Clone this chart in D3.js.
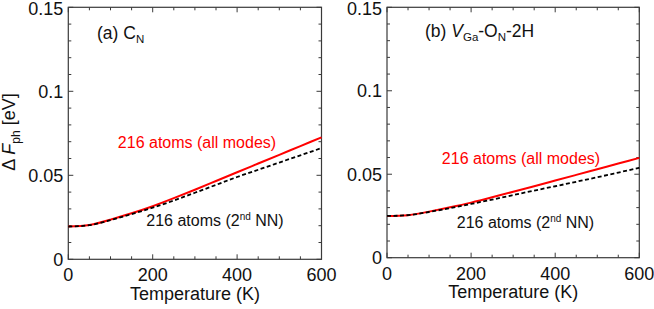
<!DOCTYPE html>
<html>
<head>
<meta charset="utf-8">
<script src="https://cdn.jsdelivr.net/npm/d3@7"></script>
<style>
  body { margin: 0; background: #fff; }
  svg { display: block; font-family: "Liberation Sans", Arial, sans-serif; }
</style>
</head>
<body>
<div id="chart"></div>
<script>
// temperatures (K)
const temps = [0, 50, 100, 150, 200, 250, 300, 350, 400, 450, 500, 550, 600];

// (a) C_N
const cnAll = [0.0195, 0.0204, 0.0236, 0.0274, 0.0316, 0.0364, 0.0414, 0.0466, 0.0518, 0.0570, 0.0622, 0.0674, 0.0726];
const cnNN2 = [0.0195, 0.0203, 0.0233, 0.0269, 0.0307, 0.0350, 0.0396, 0.0443, 0.0490, 0.0533, 0.0576, 0.0619, 0.0662];

// (b) V_Ga-O_N-2H
const vgAll = [0.0250, 0.0255, 0.0276, 0.0302, 0.0330, 0.0362, 0.0395, 0.0428, 0.0462, 0.0496, 0.0530, 0.0564, 0.0598];
const vgNN2 = [0.0250, 0.0255, 0.0274, 0.0297, 0.0322, 0.0348, 0.0375, 0.0402, 0.0428, 0.0455, 0.0482, 0.0510, 0.0538];

const xTicks = [0, 200, 400, 600];
const yTicks = [0, 0.05, 0.1, 0.15];
const yTickLabels = ["0", "0.05", "0.1", "0.15"];

const W = 654, H = 309;
const svg = d3.select("#chart").append("svg")
    .attr("width", W)
    .attr("height", H);

const frameColor = "#3a3a3a";

function drawPanel(p) {
    const x = d3.scaleLinear().domain([0, 600]).range([p.left, p.right]);
    const y = d3.scaleLinear().domain([0, 0.15]).range([p.bottom, p.top]);
    const g = svg.append("g");

    // minor + major ticks, pointing inward on all four sides
    const xMinor = d3.range(0, 601, 50);
    const yMinor = d3.range(0, 0.1501, 0.01);
    const tick = (x1, y1, x2, y2) => g.append("line")
        .attr("x1", x1).attr("y1", y1).attr("x2", x2).attr("y2", y2)
        .attr("stroke", frameColor).attr("stroke-width", 1);

    xMinor.forEach(v => {
        const len = v % 200 === 0 ? 5 : 3;
        tick(x(v), p.bottom, x(v), p.bottom - len);
        tick(x(v), p.top, x(v), p.top + len);
    });
    yMinor.forEach(v => {
        const major = Math.abs(v * 100 - Math.round(v / 0.05) * 5) < 1e-6;
        const len = major ? 5 : 3;
        tick(p.left, y(v), p.left + len, y(v));
        tick(p.right, y(v), p.right - len, y(v));
    });

    g.append("rect")
        .attr("x", p.left).attr("y", p.top)
        .attr("width", p.right - p.left).attr("height", p.bottom - p.top)
        .attr("fill", "none").attr("stroke", frameColor).attr("stroke-width", 1.2);

    // tick labels
    g.selectAll(".xl").data(xTicks).enter().append("text")
        .attr("x", d => x(d)).attr("y", p.bottom + 22)
        .attr("text-anchor", "middle").attr("font-size", 18).attr("fill", "#111")
        .text(d => d);
    g.selectAll(".yl").data(yTicks).enter().append("text")
        .attr("x", p.left - 5).attr("y", d => Math.max(y(d), p.top + 1.5)).attr("dy", "0.36em")
        .attr("text-anchor", "end").attr("font-size", 18).attr("fill", "#111")
        .text((d, i) => yTickLabels[i]);

    g.append("text")
        .attr("x", (p.left + p.right) / 2).attr("y", p.bottom + 40.5)
        .attr("text-anchor", "middle").attr("font-size", 18).attr("fill", "#111")
        .text("Temperature (K)");

    const line = d3.line()
        .x((d, i) => x(temps[i]))
        .y(d => y(d))
        .curve(d3.curveNatural);

    g.append("path").datum(p.all)
        .attr("d", line).attr("fill", "none")
        .attr("stroke", "#ff0000").attr("stroke-width", 2);
    g.append("path").datum(p.nn2)
        .attr("d", line).attr("fill", "none")
        .attr("stroke", "#000").attr("stroke-width", 1.8)
        .attr("stroke-dasharray", "4,2.5");

    // series labels
    g.append("text")
        .attr("x", p.redLab[0]).attr("y", p.redLab[1])
        .attr("text-anchor", "middle").attr("font-size", 16).attr("fill", "#ff0000")
        .text("216 atoms (all modes)");
    const bl = g.append("text")
        .attr("x", p.blkLab[0]).attr("y", p.blkLab[1])
        .attr("text-anchor", "middle").attr("font-size", 16).attr("fill", "#111");
    bl.append("tspan").text("216 atoms (2");
    bl.append("tspan").attr("font-size", 10).attr("dy", -6).text("nd");
    bl.append("tspan").attr("dy", 6).text(" NN)");

    // panel title
    const t = g.append("text")
        .attr("x", p.title[0]).attr("y", p.title[1])
        .attr("font-size", 17.5).attr("fill", "#111");
    p.titleParts.forEach(part => {
        const s = t.append("tspan").text(part.t);
        if (part.sub) s.attr("font-size", 11.5).attr("dy", 4);
        if (part.back) s.attr("dy", -4);
        if (part.it) s.attr("font-style", "italic");
    });
}

drawPanel({
    left: 68.3, right: 321.5, top: 7.3, bottom: 259.3,
    all: cnAll, nn2: cnNN2,
    redLab: [197, 147.5], blkLab: [215, 225.5],
    title: [97, 39],
    titleParts: [{t: "(a) C"}, {t: "N", sub: true}]
});

drawPanel({
    left: 387, right: 639.3, top: 7.3, bottom: 257.7,
    all: vgAll, nn2: vgNN2,
    redLab: [521, 163.5], blkLab: [525.5, 227.5],
    title: [425, 37],
    titleParts: [{t: "(b) "}, {t: "V", it: true}, {t: "Ga", sub: true}, {t: "-O", back: true},
                 {t: "N", sub: true}, {t: "-2H", back: true}]
});

// shared y-axis label
const yl = svg.append("text")
    .attr("transform", "translate(15,132) rotate(-90)")
    .attr("text-anchor", "middle").attr("font-size", 18).attr("fill", "#111");
yl.append("tspan").text("\u0394 ");
yl.append("tspan").attr("font-style", "italic").text("F");
yl.append("tspan").attr("font-size", 12).attr("dy", 5).text("ph");
yl.append("tspan").attr("dy", -5).text(" [eV]");
</script>
</body>
</html>
